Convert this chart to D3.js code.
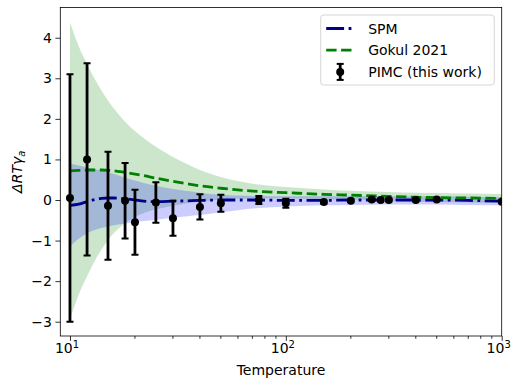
<!DOCTYPE html>
<html>
<head>
<meta charset="utf-8">
<script src="https://cdn.jsdelivr.net/npm/d3@7"></script>
<style>
  body { margin: 0; background: #fff; }
  text { font-family: "DejaVu Sans", sans-serif; fill: #000; }
</style>
</head>
<body>
<div id="chart"></div>
<script>
// temperature grid for the model curves
const curveT = [10, 11, 12, 13, 14, 15, 16, 18, 20, 22, 25, 30, 35, 40, 50, 60, 75, 100, 150, 200, 300, 400, 500, 700, 1000];

// SPM curve and its band
const spmMean = [-0.13, -0.10, -0.04, 0.01, 0.04, 0.05, 0.05, 0.03, 0.00, -0.03, -0.04, -0.03, -0.02, -0.01, 0.00, 0.00, 0.00, -0.01, -0.01, 0.00, 0.00, 0.00, 0.00, -0.01, -0.03];
const spmLow = [-1.15, -0.95, -0.82, -0.74, -0.69, -0.65, -0.62, -0.58, -0.55, -0.52, -0.49, -0.44, -0.40, -0.37, -0.30, -0.25, -0.20, -0.16, -0.13, -0.12, -0.11, -0.11, -0.11, -0.12, -0.13];
const spmHigh = [0.90, 0.85, 0.80, 0.76, 0.72, 0.68, 0.64, 0.55, 0.48, 0.42, 0.35, 0.27, 0.22, 0.18, 0.13, 0.11, 0.10, 0.09, 0.09, 0.09, 0.09, 0.09, 0.09, 0.08, 0.07];

// Gokul 2021 curve and its half-width
const gokulMean = [0.72, 0.73, 0.74, 0.74, 0.74, 0.73, 0.72, 0.68, 0.64, 0.60, 0.54, 0.46, 0.40, 0.35, 0.29, 0.25, 0.21, 0.18, 0.14, 0.12, 0.09, 0.07, 0.06, 0.05, 0.04];
const gokulErr = [3.66, 3.05, 2.62, 2.25, 1.96, 1.72, 1.53, 1.25, 1.06, 0.92, 0.77, 0.60, 0.48, 0.39, 0.28, 0.22, 0.17, 0.14, 0.12, 0.11, 0.11, 0.11, 0.11, 0.11, 0.11];

// PIMC points
const pimcT = [10, 12, 15, 18, 20, 25, 30, 40, 50, 75, 100, 150, 200, 250, 275, 300, 400, 500, 1000];
const pimcVal = [0.05, 1.00, -0.14, -0.02, -0.55, -0.06, -0.45, -0.17, -0.08, 0.00, -0.08, -0.05, -0.02, 0.01, 0.00, 0.00, 0.00, 0.01, -0.04];
const pimcErr = [3.05, 2.37, 1.33, 0.93, 0.80, 0.50, 0.43, 0.31, 0.21, 0.10, 0.11, 0.04, 0.03, 0.03, 0.03, 0.03, 0.03, 0.03, 0.03];

const yTicks = [-3, -2, -1, 0, 1, 2, 3, 4];
const xMajor = [10, 100, 1000];

const W = 513, H = 381;
const margin = { top: 7.5, right: 11.3, bottom: 45, left: 60.3 };
const width = W - margin.left - margin.right;
const height = H - margin.top - margin.bottom;

const svg = d3.select('#chart').append('svg')
  .attr('width', W)
  .attr('height', H);

const chart = svg.append('g')
  .attr('transform', `translate(${margin.left},${margin.top})`);

const x = d3.scaleLog().domain([9.02, 1000]).range([0, width]);
const y = d3.scaleLinear().domain([-3.352, 4.745]).range([height, 0]);

chart.append('clipPath').attr('id', 'clip')
  .append('rect').attr('width', width).attr('height', height);

const plot = chart.append('g').attr('clip-path', 'url(#clip)');

const curves = curveT.map((t, i) => ({
  t,
  spm: spmMean[i], spmLo: spmLow[i], spmHi: spmHigh[i],
  gk: gokulMean[i], gkLo: gokulMean[i] - gokulErr[i], gkHi: gokulMean[i] + gokulErr[i]
}));

// bands
plot.append('path')
  .datum(curves)
  .attr('fill', 'green').attr('fill-opacity', 0.2)
  .attr('d', d3.area().curve(d3.curveMonotoneX)
    .x(d => x(d.t)).y0(d => y(d.gkLo)).y1(d => y(d.gkHi)));

plot.append('path')
  .datum(curves)
  .attr('fill', 'blue').attr('fill-opacity', 0.2)
  .attr('d', d3.area().curve(d3.curveMonotoneX)
    .x(d => x(d.t)).y0(d => y(d.spmLo)).y1(d => y(d.spmHi)));

// lines
plot.append('path')
  .datum(curves)
  .attr('fill', 'none')
  .attr('stroke', 'darkblue')
  .attr('stroke-width', 2.8)
  .attr('stroke-dasharray', '17.9,4.5,2.8,4.5')
  .attr('d', d3.line().curve(d3.curveMonotoneX).x(d => x(d.t)).y(d => y(d.spm)));

plot.append('path')
  .datum(curves)
  .attr('fill', 'none')
  .attr('stroke', 'green')
  .attr('stroke-width', 2.8)
  .attr('stroke-dasharray', '10.4,4.5')
  .attr('d', d3.line().curve(d3.curveMonotoneX).x(d => x(d.t)).y(d => y(d.gk)));

// error bars
const pts = pimcT.map((t, i) => ({ t, v: pimcVal[i], e: pimcErr[i] }));
const eb = plot.selectAll('.eb').data(pts).enter().append('g').attr('class', 'eb');

eb.append('line')
  .attr('x1', d => x(d.t)).attr('x2', d => x(d.t))
  .attr('y1', d => y(d.v - d.e)).attr('y2', d => y(d.v + d.e))
  .attr('stroke', '#000').attr('stroke-width', 2.8);

eb.selectAll('.cap').data(d => [d.v - d.e, d.v + d.e].map(v => ({ t: d.t, v })))
  .enter().append('line')
  .attr('x1', d => x(d.t) - 3.5).attr('x2', d => x(d.t) + 3.5)
  .attr('y1', d => y(d.v)).attr('y2', d => y(d.v))
  .attr('stroke', '#000').attr('stroke-width', 2);

eb.append('circle')
  .attr('cx', d => x(d.t)).attr('cy', d => y(d.v))
  .attr('r', 4).attr('fill', '#000');

// axes
const xAxis = d3.axisBottom(x)
  .tickValues(xMajor)
  .tickSize(4.9)
  .tickPadding(4)
  .tickFormat(() => '');

const minor = [];
[10, 100].forEach(b => { for (let k = 2; k <= 9; k++) minor.push(b * k); });

const gx = chart.append('g')
  .attr('transform', `translate(0,${height})`)
  .call(xAxis);

gx.selectAll('.minor').data(minor).enter().append('line')
  .attr('x1', d => x(d)).attr('x2', d => x(d))
  .attr('y1', 0).attr('y2', 2.8)
  .attr('stroke', '#000').attr('stroke-width', 0.8);

const xl = gx.selectAll('.xl').data(xMajor).enter().append('text')
  .attr('x', d => x(d) - 3)
  .attr('y', 17)
  .attr('text-anchor', 'middle')
  .style('font-size', '14px');
xl.append('tspan').text('10');
xl.append('tspan').attr('dy', -5.5).style('font-size', '10px').text(d => String(Math.round(Math.log10(d))));

const yAxis = d3.axisLeft(y)
  .tickValues(yTicks)
  .tickSize(4.9)
  .tickPadding(3.5)
  .tickFormat(d => d < 0 ? '\u2212' + Math.abs(d) : String(d));

const gy = chart.append('g').call(yAxis);

[gx, gy].forEach(g => {
  g.select('.domain').remove();
  g.selectAll('.tick line').attr('stroke', '#000').attr('stroke-width', 0.8);
  g.selectAll('.tick text').style('font-size', '14px').style('font-family', '"DejaVu Sans", sans-serif');
});

// frame
chart.append('rect')
  .attr('width', width).attr('height', height)
  .attr('fill', 'none').attr('stroke', '#000').attr('stroke-width', 0.8);

// labels
svg.append('text')
  .attr('x', margin.left + width / 2)
  .attr('y', 375)
  .attr('text-anchor', 'middle')
  .style('font-size', '14px')
  .text('Temperature');

const yl = svg.append('text')
  .attr('transform', `translate(22,${margin.top + height / 2}) rotate(-90)`)
  .attr('text-anchor', 'middle')
  .style('font-size', '14px')
  .style('font-style', 'italic');
yl.append('tspan').text('\u0394RT\u03b3');
yl.append('tspan').attr('dy', 3).style('font-size', '10px').text('a');

// legend
const lg = svg.append('g').attr('transform', 'translate(320.7,15)');
lg.append('rect')
  .attr('width', 173.6).attr('height', 70)
  .attr('rx', 3)
  .attr('fill', '#fff').attr('fill-opacity', 0.8)
  .attr('stroke', '#ccc').attr('stroke-width', 0.8);

const legendItems = ['SPM', 'Gokul 2021', 'PIMC (this work)'];
legendItems.forEach((name, i) => {
  const cy = 13.5 + i * 21.7;
  if (i === 0) {
    lg.append('line').attr('x1', 5.5).attr('x2', 33.5).attr('y1', cy).attr('y2', cy)
      .attr('stroke', 'darkblue').attr('stroke-width', 2.8).attr('stroke-dasharray', '17.9,4.5,2.8,4.5');
  } else if (i === 1) {
    lg.append('line').attr('x1', 5.5).attr('x2', 33.5).attr('y1', cy).attr('y2', cy)
      .attr('stroke', 'green').attr('stroke-width', 2.8).attr('stroke-dasharray', '10.4,4.5');
  } else {
    lg.append('line').attr('x1', 19.5).attr('x2', 19.5).attr('y1', cy - 8).attr('y2', cy + 8)
      .attr('stroke', '#000').attr('stroke-width', 2.8);
    [cy - 8, cy + 8].forEach(v => lg.append('line')
      .attr('x1', 16).attr('x2', 23).attr('y1', v).attr('y2', v)
      .attr('stroke', '#000').attr('stroke-width', 2));
    lg.append('circle').attr('cx', 19.5).attr('cy', cy).attr('r', 4).attr('fill', '#000');
  }
  lg.append('text')
    .attr('x', 47.5).attr('y', cy + 5)
    .style('font-size', '14px')
    .text(name);
});
</script>
</body>
</html>
